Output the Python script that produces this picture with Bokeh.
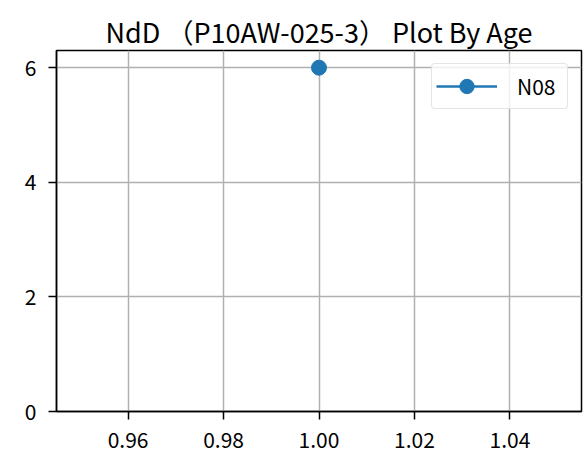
from bokeh.plotting import figure
from bokeh.models import (Range1d, FixedTicker, PrintfTickFormatter, Legend, LegendItem,
                          LinearAxis)
from bokeh.embed import file_html
from bokeh.resources import INLINE

# Data
series_name = "N08"
ages = [1.00]
values = [6]
x_ticks = [0.96, 0.98, 1.00, 1.02, 1.04]
y_ticks = [0, 2, 4, 6]
title_text = "NdD （P10AW-025-3） Plot By Age"

FONT = "Noto Sans CJK JP"
BLUE = "#1f77b4"

p = figure(width=583, height=458, output_backend="svg", toolbar_location=None,
           min_border_left=56, min_border_right=2, min_border_top=50, min_border_bottom=47,
           x_range=Range1d(0.945, 1.055), y_range=Range1d(0, 6.3))

bottom_axis = p.below[0]
left_axis = p.left[0]

# invisible spacer between frame and title
spacer = LinearAxis(ticker=FixedTicker(ticks=[]), axis_line_color=None,
                    major_tick_line_color=None, minor_tick_line_color=None,
                    major_label_text_font_size="0px", major_label_standoff=0,
                    major_tick_out=8, major_tick_in=0, minor_tick_out=0, minor_tick_in=0)
p.add_layout(spacer, "above")

p.title.text = title_text
p.title.align = "center"
p.title.vertical_align = "bottom"
p.title.text_font = FONT
p.title.text_font_size = "27px"
p.title.text_font_style = "normal"
p.title.text_color = "black"
p.title.standoff = 0

line_r = p.line(ages, values, line_color=BLUE, line_width=2.7)
pt_r = p.scatter(ages, values, size=15, fill_color=BLUE, line_color=BLUE)

legend = Legend(items=[LegendItem(label=series_name, renderers=[line_r, pt_r])],
                location="top_right")
legend.margin = 13
legend.padding = 4
legend.glyph_width = 61
legend.glyph_height = 36
legend.label_standoff = 20
legend.label_width = 46
legend.label_text_font = FONT
legend.label_text_font_size = "21px"
legend.label_text_color = "black"
legend.border_line_color = "#cccccc"
legend.border_line_width = 1.5
legend.background_fill_color = "white"
legend.background_fill_alpha = 0.8
if "border_radius" in legend.properties():
    legend.border_radius = 4
p.add_layout(legend, "center")

for ax in (bottom_axis, left_axis):
    ax.axis_line_color = "black"
    ax.axis_line_width = 1.5
    ax.major_tick_line_color = "black"
    ax.major_tick_line_width = 1.5
    ax.major_tick_out = 8
    ax.major_tick_in = 0
    ax.minor_tick_line_color = None
    ax.major_label_text_font = FONT
    ax.major_label_text_font_size = "21px"
    ax.major_label_text_color = "black"
    ax.major_label_standoff = 12

bottom_axis.ticker = FixedTicker(ticks=x_ticks)
left_axis.ticker = FixedTicker(ticks=y_ticks)
bottom_axis.formatter = PrintfTickFormatter(format="%.2f")
left_axis.formatter = PrintfTickFormatter(format="%d")

p.xgrid.ticker = FixedTicker(ticks=x_ticks)
p.ygrid.ticker = FixedTicker(ticks=y_ticks)
p.grid.grid_line_color = "#b0b0b0"
p.grid.grid_line_width = 1.5

p.outline_line_color = "black"
p.outline_line_width = 1.5
p.background_fill_color = "white"
p.border_fill_color = "white"

open("out.html", "w").write(file_html(p, INLINE))
